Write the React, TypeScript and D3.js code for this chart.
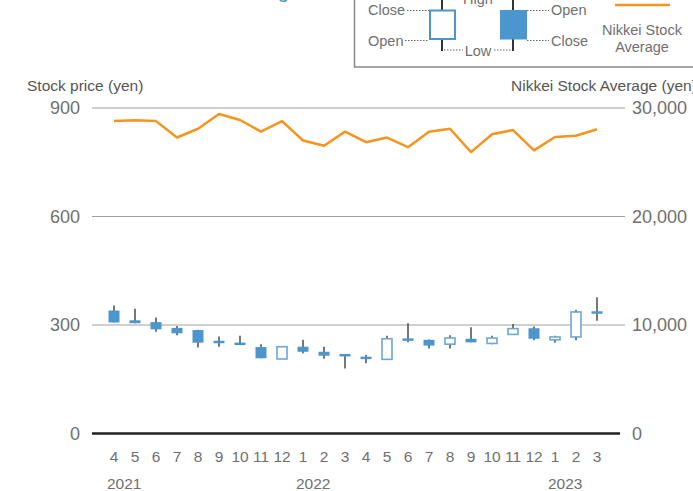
import React from "react";
import * as d3 from "d3";

const periods = ["2021-04","2021-05","2021-06","2021-07","2021-08","2021-09","2021-10","2021-11","2021-12","2022-01","2022-02","2022-03","2022-04","2022-05","2022-06","2022-07","2022-08","2022-09","2022-10","2022-11","2022-12","2023-01","2023-02","2023-03"];
const monthLabels = ["4","5","6","7","8","9","10","11","12","1","2","3","4","5","6","7","8","9","10","11","12","1","2","3"];
const yearLabels = [{ at: "2021-04", text: "2021" }, { at: "2022-01", text: "2022" }, { at: "2023-01", text: "2023" }];
const openValues = [340,313,308,292,286,254,251,239,206,240,226,219,212,205,262,259,247,262,249,274,291,259,267,336];
const highValues = [354,345,321,297,287,268,270,247,241,259,240,219,217,270,305,260,272,294,270,303,296,270,342,377];
const lowValues = [307,305,281,272,238,240,245,208,206,222,207,180,194,205,252,235,235,252,247,274,258,251,258,312];
const closeValues = [307,305,288,277,251,252,245,208,240,226,215,214,206,262,257,243,264,252,264,290,262,267,336,333];
const nikkeiValues = [28812,28860,28791,27283,28089,29452,28892,27821,28791,27001,26526,27821,26847,27279,26393,27801,28091,25937,27587,27968,26094,27327,27445,28041];
const leftTicks = [0,300,600,900];
const rightTicks = [0,10000,20000,30000];

const FONT = "'Liberation Sans', Arial, sans-serif";
const BLUE = "#4b97cd";
const ORANGE = "#f7941d";
const TXT = "#707070";

export default function App() {
  const x = d3.scaleBand<string>().domain(periods).range([103.5, 607.5]);
  const yL = d3.scaleLinear().domain([0, 900]).range([433.5, 108]);
  const yR = d3.scaleLinear().domain([0, 30000]).range([433.5, 108]);
  const cx = (p: string) => (x(p) as number) + x.bandwidth() / 2;
  const bodyW = 10;
  const line = d3.line<number>().x((_, i) => cx(periods[i])).y((v) => yR(v));

  return (
    <svg width={693} height={491} style={{ position: "absolute", left: 0, top: 0, background: "#fff" }} fontFamily={FONT}>
      {/* cut-off title */}
      <text x={289} y={-2} textAnchor="end" fontSize={20} fill={BLUE}>Stock Price Trading</text>

      {/* legend */}
      <g>
        <rect x={354.5} y={-10} width={400} height={77} fill="#fff" stroke="#888" strokeWidth={1.5} />
        <g fontSize={14.5} fill={TXT}>
          <text x={368} y={15}>Close</text>
          <text x={368} y={46}>Open</text>
          <text x={551} y={15}>Open</text>
          <text x={551} y={46}>Close</text>
          <text x={478} y={56} textAnchor="middle">Low</text>
          <text x={478} y={4} textAnchor="middle">High</text>
          <text x={642} y={35} textAnchor="middle">Nikkei Stock</text>
          <text x={642} y={52} textAnchor="middle">Average</text>
        </g>
        <g stroke="#666" strokeWidth={1} strokeDasharray="1.5,1.5">
          <line x1={407} x2={429} y1={10.5} y2={10.5} />
          <line x1={405} x2={429} y1={40.5} y2={40.5} />
          <line x1={527} x2={549} y1={10.5} y2={10.5} />
          <line x1={527} x2={549} y1={40.5} y2={40.5} />
          <line x1={444} x2={463} y1={50} y2={50} />
          <line x1={494} x2={512} y1={50} y2={50} />
        </g>
        <g stroke="#333" strokeWidth={2}>
          <line x1={442} x2={442} y1={-2} y2={10} />
          <line x1={442} x2={442} y1={39} y2={51} />
          <line x1={513} x2={513} y1={-2} y2={10} />
          <line x1={513} x2={513} y1={39} y2={51} />
        </g>
        <rect x={430} y={10.5} width={25} height={28.5} fill="#fff" stroke={BLUE} strokeWidth={2} />
        <rect x={500} y={10} width={27} height={29.5} fill={BLUE} />
        <line x1={615} x2={670} y1={5} y2={5} stroke={ORANGE} strokeWidth={2.5} />
      </g>

      {/* axis titles */}
      <text x={27} y={91} fontSize={15.5} fill="#555">Stock price (yen)</text>
      <text x={511} y={91} fontSize={15.5} fill="#555">Nikkei Stock Average (yen)</text>

      {/* grid */}
      {leftTicks.filter((t) => t > 0).map((t) => (
        <line key={t} x1={92} x2={625} y1={yL(t)} y2={yL(t)} stroke="#a0a0a0" strokeWidth={1} />
      ))}
      <line x1={92} x2={620} y1={yL(0)} y2={yL(0)} stroke="#222" strokeWidth={2.5} />

      {/* left tick labels */}
      {leftTicks.map((t) => (
        <text key={t} x={80} y={yL(t)} dy="0.36em" textAnchor="end" fontSize={18} fill={TXT}>{d3.format(",")(t)}</text>
      ))}
      {rightTicks.map((t) => (
        <text key={t} x={632} y={yR(t)} dy="0.36em" textAnchor="start" fontSize={18} fill={TXT}>{d3.format(",")(t)}</text>
      ))}

      {/* x labels */}
      {periods.map((p, i) => (
        <text key={p} x={cx(p)} y={462} textAnchor="middle" fontSize={15.5} fill={TXT}>{monthLabels[i]}</text>
      ))}
      {yearLabels.map((y) => (
        <text key={y.text} x={cx(y.at) - 7} y={489} fontSize={15.5} fill={TXT}>{y.text}</text>
      ))}

      {/* candles */}
      {periods.map((p, i) => {
        const o = openValues[i], c = closeValues[i], h = highValues[i], l = lowValues[i];
        const up = c > o;
        const top = yL(Math.max(o, c));
        const bot = yL(Math.min(o, c));
        const hgt = Math.max(bot - top, 2.5);
        const mid = (top + bot) / 2;
        const bTop = mid - hgt / 2;
        const xc = cx(p);
        return (
          <g key={p}>
            <line x1={xc} x2={xc} y1={yL(h)} y2={yL(l)} stroke="#555" strokeWidth={1.6} />
            {up ? (
              <rect x={xc - bodyW / 2} y={bTop} width={bodyW} height={hgt} fill="#fff" stroke="#6aa8d8" strokeWidth={1.6} />
            ) : (
              <rect x={xc - bodyW / 2 - 0.5} y={bTop} width={bodyW + 1} height={hgt} fill={BLUE} />
            )}
          </g>
        );
      })}

      {/* Nikkei line */}
      <path d={line(nikkeiValues) as string} fill="none" stroke={ORANGE} strokeWidth={2.5} strokeLinejoin="round" />
    </svg>
  );
}
